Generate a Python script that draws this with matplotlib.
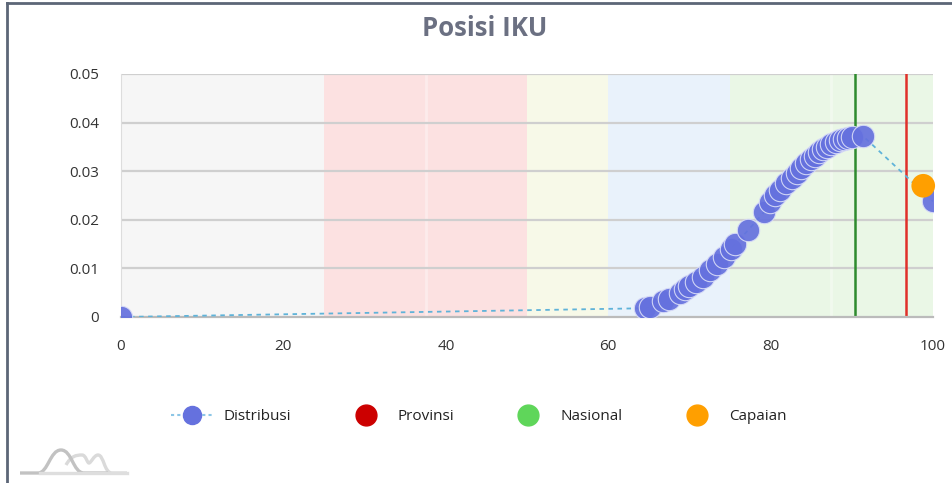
import matplotlib
matplotlib.use('Agg')
import matplotlib.pyplot as plt
from matplotlib.lines import Line2D
from matplotlib.path import Path
from matplotlib.patches import PathPatch

plt.rcParams['font.family'] = ['Open Sans', 'DejaVu Sans']

# Distribution curve points
dist_x = [0, 64.5, 65.2, 66.8, 67.5, 68.8, 69.4, 70.0, 70.8, 71.7, 72.5, 73.4, 74.2,
          75.1, 75.6, 77.2, 79.2, 79.9, 80.6, 81.2, 81.9, 82.6, 83.2, 83.8, 84.4,
          85.0, 85.5, 86.0, 86.5, 87.0, 87.5, 88.0, 88.5, 89.0, 89.5, 90.0, 91.4, 100]
dist_y = [0, 0.0018, 0.0020, 0.0032, 0.0037, 0.0050, 0.0057, 0.0063, 0.0072, 0.0083,
          0.0097, 0.0110, 0.0124, 0.0140, 0.0150, 0.0178, 0.0216, 0.0236, 0.0250,
          0.0262, 0.0275, 0.0287, 0.0297, 0.0307, 0.0316, 0.0325, 0.0332, 0.0339,
          0.0345, 0.0350, 0.0355, 0.0360, 0.0364, 0.0367, 0.0369, 0.0371, 0.0372, 0.0238]

# Reference positions
provinsi_x = 96.7
nasional_x = 90.4
capaian_x = 98.8
capaian_y = 0.027

# Background score bands
band_edges = [0, 25, 50, 60, 75, 100]
band_colors = ['#f6f6f6', '#fce1e1', '#f7f9e8', '#e9f2fb', '#eaf7e6']

xticks = [0, 20, 40, 60, 80, 100]
yticks = [0, 0.01, 0.02, 0.03, 0.04, 0.05]
ytick_labels = ['0', '0.01', '0.02', '0.03', '0.04', '0.05']

fig = plt.figure(figsize=(9.53, 4.83), dpi=100)
ax = fig.add_axes([0.127, 0.3437, 0.852, 0.5031])

for i in range(len(band_colors)):
    ax.axvspan(band_edges[i], band_edges[i + 1], color=band_colors[i], lw=0, zorder=0)
for xv in [37.5, 87.5]:
    ax.axvline(xv, color='white', lw=2, alpha=0.35, zorder=0.5)

for yv in yticks[1:]:
    ax.axhline(yv, color='#cfcfcf', lw=1.6, zorder=1)

ax.axvline(nasional_x, color='#2e8b2e', lw=1.8, zorder=2)
ax.axvline(provinsi_x, color='#e0302a', lw=1.8, zorder=2)

ax.plot(dist_x, dist_y, color='#5fb3d9', lw=1.3, ls=(0, (2.5, 2.5)), zorder=3)
ax.scatter(dist_x, dist_y, s=260, color='#6571de', edgecolors='#d8dcf7', linewidths=0.8,
           alpha=0.92, zorder=4)
ax.scatter([capaian_x], [capaian_y], s=290, color='#ff9f00', edgecolors='none', zorder=5,
           clip_on=False)

ax.set_xlim(0, 100)
ax.set_ylim(0, 0.05)
ax.set_xticks(xticks)
ax.set_yticks(yticks)
ax.set_yticklabels(ytick_labels)
ax.tick_params(length=0, labelsize=11, colors='#333333', pad=16)
ax.tick_params(axis='x', pad=16)
for side in ['top', 'right']:
    ax.spines[side].set_visible(False)
ax.spines['left'].set_color('#dddddd')
ax.spines['bottom'].set_color('#bbbbbb')
ax.spines['bottom'].set_linewidth(1.6)

fig.text(0.509, 0.942, 'Posisi IKU', ha='center', va='center', fontsize=18.5,
         fontweight='bold', color='#6b7082')

# Legend
handles = [
    Line2D([], [], color='#8cc6e6', ls=(0, (1.5, 1.5)), lw=1.5, marker='o', markersize=13,
           markerfacecolor='#6571de', markeredgecolor='#6571de'),
    Line2D([], [], ls='none', marker='o', markersize=15, color='#cc0000'),
    Line2D([], [], ls='none', marker='o', markersize=15, color='#5fd65a'),
    Line2D([], [], ls='none', marker='o', markersize=15, color='#ff9f00'),
]
fig.legend(handles, ['Distribusi', 'Provinsi', 'Nasional', 'Capaian'], loc='center',
           bbox_to_anchor=(0.502, 0.137), ncol=4, frameon=False, fontsize=11,
           handlelength=2.8, columnspacing=3.45, handletextpad=0.7, labelcolor='#222222')

# Card border
fig.add_artist(Line2D([0.0075, 0.0075], [0, 0.994], color='#5c6677', lw=2,
                      transform=fig.transFigure))
fig.add_artist(Line2D([0.0075, 1.0], [0.994, 0.994], color='#5c6677', lw=2,
                      transform=fig.transFigure))


# Small logo in the bottom-left corner
def px(x, y):
    return (x / 953, 1 - y / 483)


dark_codes = [Path.MOVETO, Path.LINETO, Path.CURVE4, Path.CURVE4, Path.CURVE4,
              Path.CURVE4, Path.CURVE4, Path.CURVE4, Path.LINETO]
dark = [px(20, 473), px(38, 473), px(48, 473), px(50, 450), px(61, 450),
        px(72, 450), px(73, 473), px(84, 473), px(108, 473)]
light_codes = [Path.MOVETO, Path.CURVE4, Path.CURVE4, Path.CURVE4, Path.CURVE4,
               Path.CURVE4, Path.CURVE4, Path.CURVE4, Path.CURVE4, Path.CURVE4,
               Path.CURVE4, Path.CURVE4, Path.CURVE4, Path.LINETO]
light = [px(66, 465), px(71, 456), px(76, 455), px(82, 455),
         px(86, 455), px(87, 463), px(89, 463),
         px(91, 463), px(94, 455), px(98, 455),
         px(104, 455), px(104, 473), px(112, 473), px(127, 473)]
fig.add_artist(Line2D([40 / 953, 127 / 953], [1 - 473 / 483] * 2, color='#dedede', lw=2.4,
                      transform=fig.transFigure))
fig.add_artist(PathPatch(Path(light, light_codes), fill=False, ec='#dadada', lw=2.4,
                         transform=fig.transFigure))
fig.add_artist(PathPatch(Path(dark, dark_codes), fill=False, ec='#c2c2c2', lw=2.4,
                         transform=fig.transFigure))

fig.savefig('out.png', dpi=100)
